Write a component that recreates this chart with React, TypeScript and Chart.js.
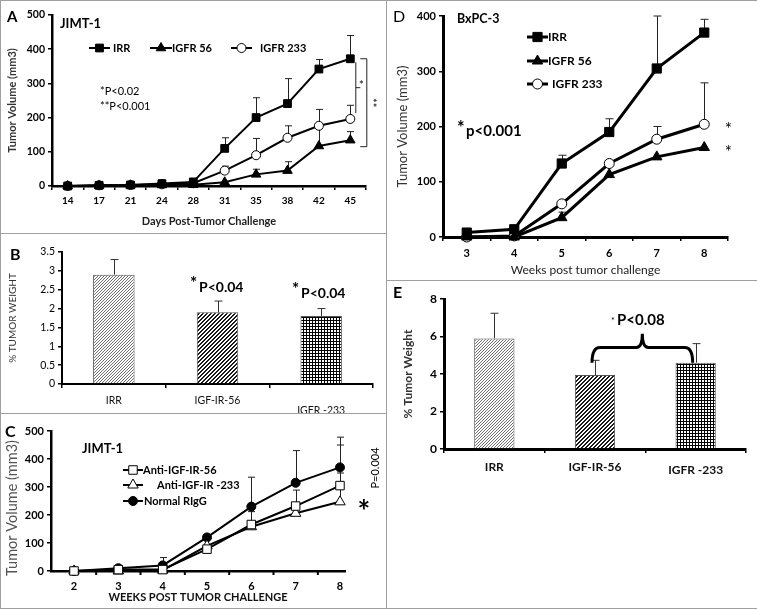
import { useEffect, useRef } from 'react';
import { Chart, registerables } from 'chart.js';
Chart.register(...registerables);

const FONT = "Lato, 'Noto Sans', sans-serif";
Chart.defaults.font.family = FONT;

// ---------- Panel A (JIMT-1, days) ----------
const daysA = ['14', '17', '21', '24', '28', '31', '35', '38', '42', '45'];
const irrA = [0, 2, 3, 7, 12, 110, 200, 241, 342, 372];
const irrAErr = [null, null, null, null, null, 141, 258, 314, 370, 440];
const igfr56A = [0, 1, 2, 3, 4, 11, 34, 45, 117, 134];
const igfr56AErr = [null, null, null, null, null, null, 49, 71, 175, 159];
const igfr233A = [0, 2, 3, 5, 8, 45, 90, 141, 176, 196];
const igfr233AErr = [null, null, null, null, null, 58, 139, 176, 224, 236];

// ---------- Panel B (% tumor weight) ----------
const groupsB = ['IRR', 'IGF-IR-56', 'IGFR -233'];
const weightB = [2.9, 1.9, 1.8];
const weightBErr = [3.3, 2.2, 2.0];

// ---------- Panel C (JIMT-1, weeks) ----------
const weeksC = [2, 3, 4, 5, 6, 7, 8];
const anti56C = [0, 5, 5, 78, 166, 232, 305];
const anti56CErr = [null, null, null, null, 212, 289, 450];
const anti233C = [0, 0, 3, 90, 158, 206, 247];
const anti233CErr = [null, 15, null, null, null, null, 350];
const riggC = [0, 10, 20, 120, 230, 315, 370];
const riggCErr = [null, null, 48, 130, 335, 430, 478];

// ---------- Panel D (BxPC-3) ----------
const weeksD = ['3', '4', '5', '6', '7', '8'];
const irrD = [8, 14, 133, 190, 305, 370];
const irrDErr = [null, 20, 148, 214, 400, 394];
const igfr56D = [0, 0, 35, 113, 145, 162];
const igfr56DErr = [null, null, 45, null, null, null];
const igfr233D = [0, 2, 60, 133, 177, 204];
const igfr233DErr = [null, null, null, null, 200, 279];

// ---------- Panel E (% tumor weight) ----------
const groupsE = ['IRR', 'IGF-IR-56', 'IGFR -233'];
const weightE = [5.9, 3.95, 4.6];
const weightEErr = [7.24, 4.73, 5.62];

function txt(ctx: CanvasRenderingContext2D, s: string, x: number, y: number, size: number, weight = 'normal',
  align: CanvasTextAlign = 'left', baseline: CanvasTextBaseline = 'alphabetic', color = '#000', rot = 0) {
  ctx.save();
  ctx.font = `${weight} ${size}px ${FONT}`;
  ctx.fillStyle = color;
  ctx.textAlign = align;
  ctx.textBaseline = baseline;
  ctx.translate(x, y);
  if (rot) ctx.rotate(rot);
  ctx.fillText(s, 0, 0);
  ctx.restore();
}

function marker(ctx: CanvasRenderingContext2D, style: string, x: number, y: number, r: number, fill: string) {
  ctx.save();
  ctx.beginPath();
  if (style === 'rect') {
    const s = r * Math.SQRT1_2;
    ctx.rect(x - s, y - s, 2 * s, 2 * s);
  } else if (style === 'triangle') {
    const a = (2 * Math.PI) / 3;
    ctx.moveTo(x, y - r);
    ctx.lineTo(x + r * Math.sin(a), y - r * Math.cos(a));
    ctx.lineTo(x + r * Math.sin(2 * a), y - r * Math.cos(2 * a));
    ctx.closePath();
  } else {
    ctx.arc(x, y, r, 0, Math.PI * 2);
  }
  ctx.fillStyle = fill;
  ctx.fill();
  ctx.strokeStyle = '#000';
  ctx.lineWidth = 1;
  ctx.stroke();
  ctx.restore();
}

function legendRow(ctx: CanvasRenderingContext2D, ds: any, x1: number, x2: number, y: number, tx: number, size: number, lw: number) {
  ctx.save();
  ctx.strokeStyle = '#000';
  ctx.lineWidth = lw;
  ctx.beginPath();
  ctx.moveTo(x1, y);
  ctx.lineTo(x2, y);
  ctx.stroke();
  ctx.restore();
  marker(ctx, ds.pointStyle, (x1 + x2) / 2, y, ds.pointRadius, ds.pointBackgroundColor);
  txt(ctx, ds.label, tx, y, size, 'bold', 'left', 'middle');
}

const errorBars = {
  id: 'errorBars',
  beforeDatasetsDraw(chart: any) {
    const ctx = chart.ctx;
    const ys = chart.scales.y;
    chart.data.datasets.forEach((ds: any, i: number) => {
      if (!ds.errTop) return;
      const meta = chart.getDatasetMeta(i);
      ctx.save();
      ctx.strokeStyle = ds.errColor || '#000';
      ctx.lineWidth = ds.errWidth || 1;
      meta.data.forEach((el: any, j: number) => {
        const v = ds.errTop[j];
        if (v == null) return;
        const x = Math.round(el.x) + 0.5;
        const y1 = ys.getPixelForValue(v);
        const c = ds.errCap || 3.5;
        ctx.beginPath();
        ctx.moveTo(x, el.y);
        ctx.lineTo(x, y1);
        ctx.moveTo(x - c, y1);
        ctx.lineTo(x + c, y1);
        ctx.stroke();
      });
      ctx.restore();
    });
  },
};

function pattern(kind: string): any {
  const c = document.createElement('canvas');
  const n = kind === 'dark' ? 4 : 3;
  c.width = n;
  c.height = n;
  const g = c.getContext('2d')!;
  g.fillStyle = '#fff';
  g.fillRect(0, 0, n, n);
  if (kind === 'light') {
    g.fillStyle = '#6e6e6e';
    for (let x = 0; x < n; x++) g.fillRect(x, n - 1 - x, 1, 1);
  } else if (kind === 'dark') {
    g.fillStyle = '#1a1a1a';
    for (let x = 0; x < n; x++) {
      g.fillRect(x, n - 1 - x, 1, 1);
      g.fillRect(x, (2 * n - 2 - x) % n, 1, 1);
    }
  } else {
    g.fillStyle = '#000';
    g.fillRect(0, 0, n, 1);
    g.fillRect(0, 0, 1, n);
  }
  return g.createPattern(c, 'repeat');
}

function yAxis(max: number, step: number, width: number, tickSize: number, tickWeight: string, title: string,
  titleSize: number, titleWeight: string, titleColor: string, titlePad: number, bw: number) {
  return {
    min: 0,
    max,
    ticks: {
      stepSize: step, font: { family: FONT, size: tickSize, weight: tickWeight }, color: '#000', padding: 3,
      callback: (v: any) => String(Math.round(Number(v) * 100) / 100),
    },
    grid: { drawOnChartArea: false, drawTicks: true, tickLength: 4, color: '#000', lineWidth: 1.5 },
    border: { display: true, color: '#000', width: bw },
    title: { display: title !== '', text: title, font: { family: FONT, size: titleSize, weight: titleWeight }, color: titleColor, padding: { top: titlePad, bottom: 0 } },
    afterFit: (s: any) => { s.width = width; },
  };
}

function baseOptions(padding: any, scales: any) {
  return {
    responsive: false,
    maintainAspectRatio: false,
    animation: false as const,
    devicePixelRatio: 1,
    events: [] as any[],
    layout: { padding },
    plugins: { legend: { display: false }, tooltip: { enabled: false } },
    scales,
  };
}

function lineDs(label: string, data: any[], err: any[], style: string, r: number, fill: string, bw: number, cap = 3.5) {
  return {
    label,
    data,
    errTop: err,
    errCap: cap,
    errColor: '#222',
    pointStyle: style,
    pointRadius: r,
    pointBackgroundColor: fill,
    pointBorderColor: '#000',
    pointBorderWidth: 1,
    borderColor: '#000',
    backgroundColor: '#000',
    borderWidth: bw,
    tension: 0,
    clip: false,
  };
}

function makeA(cv: HTMLCanvasElement) {
  const annot = {
    id: 'annA',
    afterDraw(chart: any) {
      const ctx = chart.ctx;
      const xs = chart.scales.x, ys = chart.scales.y;
      const ds = chart.data.datasets;
      txt(ctx, 'A', 7, 22, 15, 'bold');
      txt(ctx, 'JIMT-1', 60, 28, 13, 'bold');
      legendRow(ctx, ds[0], 89, 110, 48, 113, 11, 2);
      legendRow(ctx, ds[1], 150, 172, 48, 172, 11, 2);
      legendRow(ctx, ds[2], 231, 252, 48, 260, 11, 2);
      txt(ctx, '*P<0.02', 100, 95, 11);
      txt(ctx, '**P<0.001', 100, 110, 11);
      const lx = xs.getPixelForValue(daysA.length - 1);
      const last = daysA.length - 1;
      ctx.save();
      ctx.strokeStyle = '#222';
      ctx.lineWidth = 1;
      const yi1 = ys.getPixelForValue(irrA[last] - 10), yi2 = ys.getPixelForValue(igfr233A[last] + 17);
      const ym = (yi1 + yi2) / 2;
      ctx.beginPath();
      ctx.moveTo(lx + 5.5, yi1); ctx.lineTo(lx + 5.5, yi2);
      ctx.moveTo(lx + 5.5, ym); ctx.lineTo(lx + 10, ym);
      const yo1 = ys.getPixelForValue(irrA[last]), yo2 = ys.getPixelForValue(igfr56A[last] - 19);
      ctx.moveTo(lx + 10, yo1); ctx.lineTo(lx + 16.5, yo1); ctx.lineTo(lx + 16.5, yo2); ctx.lineTo(lx + 10, yo2);
      ctx.stroke();
      ctx.restore();
      txt(ctx, '*', lx + 11, ym - 2, 11, 'normal', 'center', 'middle');
      txt(ctx, '**', lx + 21, (yo1 + yo2) / 2, 11, 'normal', 'center', 'middle', '#000', Math.PI / 2);
    },
  };
  return new Chart(cv, {
    type: 'line',
    data: {
      labels: daysA,
      datasets: [
        lineDs('IRR', irrA, irrAErr, 'rect', 5.5, '#000', 2),
        lineDs('IGFR 56', igfr56A, igfr56AErr, 'triangle', 5.5, '#000', 2),
        lineDs('IGFR 233', igfr233A, igfr233AErr, 'circle', 4.5, '#fff', 2),
      ] as any,
    },
    options: baseOptions({ left: 0, top: 15, right: 20, bottom: 0 }, {
      x: {
        type: 'category', offset: true,
        grid: { offset: true, drawOnChartArea: false, tickLength: 4, color: '#000', lineWidth: 1.5 },
        border: { color: '#000', width: 2.5 },
        ticks: { font: { size: 10, weight: 'bold' }, color: '#000', padding: 5, maxRotation: 0, autoSkip: false },
        title: { display: true, text: 'Days Post-Tumor Challenge', font: { size: 11, weight: 'bold' }, color: '#222', padding: { top: 0, bottom: 5 } },
        afterFit: (s: any) => { s.height = 47; },
      },
      y: yAxis(500, 100, 52, 10.5, 'bold', 'Tumor Volume (mm3)', 11, 'bold', '#333', 6, 2.5),
    }) as any,
    plugins: [errorBars, annot],
  });
}

function makeBars(cv: HTMLCanvasElement, groups: string[], vals: number[], errs: number[], cfg: any) {
  const pats = [pattern('light'), pattern('dark'), pattern('grid')];
  const annot = {
    id: 'annBar',
    afterDraw(chart: any) {
      const ctx = chart.ctx;
      const xs = chart.scales.x;
      groups.forEach((g, i) => {
        txt(ctx, g, xs.getPixelForValue(i), i === 2 ? cfg.labelY2 : cfg.labelY, cfg.labelSize, cfg.labelWeight, 'center', 'middle', '#111');
      });
      cfg.extra(chart, ctx);
    },
  };
  return new Chart(cv, {
    type: 'bar',
    data: {
      labels: groups,
      datasets: [{
        data: vals, errTop: errs, errCap: 4, errColor: '#333', errWidth: 1,
        backgroundColor: pats, borderColor: '#555', borderWidth: 1,
        categoryPercentage: 0.8, barPercentage: 0.5,
      }] as any,
    },
    options: baseOptions(cfg.padding, {
      x: {
        type: 'category',
        grid: { offset: true, drawOnChartArea: false, tickLength: 4, color: '#000', lineWidth: 1.5 },
        border: { color: '#000', width: cfg.bw },
        ticks: { display: false },
        afterFit: (s: any) => { s.height = cfg.xh; },
      },
      y: cfg.y,
    }) as any,
    plugins: [errorBars, annot],
  });
}

function makeB(cv: HTMLCanvasElement) {
  return makeBars(cv, groupsB, weightB, weightBErr, {
    padding: { left: 0, top: 19, right: 13, bottom: 0 },
    xh: 29, bw: 2, labelY: 168, labelY2: 178, labelSize: 10.5, labelWeight: 'normal',
    y: yAxis(3.5, 0.5, 62, 10.5, 'normal', '% TUMOR WEIGHT', 10, 'normal', '#333', 7, 2),
    extra: (chart: any, ctx: CanvasRenderingContext2D) => {
      txt(ctx, 'B', 10, 27, 16, 'bold');
      txt(ctx, '*', 190, 56, 17, 'bold');
      txt(ctx, 'P<0.04', 199, 59, 14, 'bold');
      txt(ctx, '*', 292, 62, 17, 'bold');
      txt(ctx, 'P<0.04', 301, 65, 14, 'bold');
    },
  });
}

function makeE(cv: HTMLCanvasElement) {
  return makeBars(cv, groupsE, weightE, weightEErr, {
    padding: { left: 0, top: 19, right: 11, bottom: 0 },
    xh: 159, bw: 3, labelY: 187, labelY2: 190, labelSize: 12, labelWeight: 'bold',
    y: yAxis(8, 2, 58, 12, 'bold', '% Tumor Weight', 12, 'bold', '#333', 15, 3),
    extra: (chart: any, ctx: CanvasRenderingContext2D) => {
      const xs = chart.scales.x, ys = chart.scales.y;
      txt(ctx, 'E', 7, 18, 16, 'bold');
      const xl = xs.getPixelForValue(1) - 3, xr = xs.getPixelForValue(2) - 3;
      const yEnd = ys.getPixelForValue(weightE[2]), yMid = ys.getPixelForValue(5.42), yTip = ys.getPixelForValue(6.15);
      const xm = (xl + xr) / 2;
      ctx.save();
      ctx.strokeStyle = '#000';
      ctx.lineWidth = 3;
      ctx.beginPath();
      ctx.moveTo(xl, yEnd);
      ctx.quadraticCurveTo(xl, yMid, xl + 8, yMid);
      ctx.lineTo(xm - 6, yMid);
      ctx.quadraticCurveTo(xm, yMid, xm, yTip);
      ctx.quadraticCurveTo(xm, yMid, xm + 6, yMid);
      ctx.lineTo(xr - 8, yMid);
      ctx.quadraticCurveTo(xr, yMid, xr, yEnd);
      ctx.stroke();
      ctx.restore();
      txt(ctx, '*', 225, 44, 9, 'normal');
      txt(ctx, 'P<0.08', 231, 45, 15, 'bold');
    },
  });
}

function makeC(cv: HTMLCanvasElement) {
  const annot = {
    id: 'annC',
    afterDraw(chart: any) {
      const ctx = chart.ctx;
      const xs = chart.scales.x, ys = chart.scales.y;
      const ds = chart.data.datasets;
      ctx.save();
      ctx.strokeStyle = '#000';
      ctx.lineWidth = 2;
      ctx.beginPath();
      for (let i = 0; i < weeksC.length - 1; i++) {
        const px = xs.getPixelForValue(weeksC[i] + 0.5);
        ctx.moveTo(px, ys.bottom);
        ctx.lineTo(px, ys.bottom + 4);
      }
      ctx.stroke();
      ctx.restore();
      txt(ctx, 'Tumor Volume (mm3)', 12, 95, 14.5, 'normal', 'center', 'middle', '#555', -Math.PI / 2);
      txt(ctx, 'C', 5, 24, 16, 'bold');
      txt(ctx, 'JIMT-1', 82, 40, 13, 'bold');
      legendRow(ctx, ds[0], 123, 143, 57, 143, 11, 2);
      legendRow(ctx, ds[1], 123, 143, 72, 157, 11, 2);
      legendRow(ctx, ds[2], 123, 143, 88, 144, 11, 2);
      txt(ctx, 'P=0.004', 375, 55, 11, 'normal', 'center', 'middle', '#000', -Math.PI / 2);
      const last = weeksC.length - 1;
      txt(ctx, '*', xs.getPixelForValue(weeksC[last]) + 24, ys.getPixelForValue(anti233C[last]) + 10, 30, 'bold', 'center', 'middle');
    },
  };
  const pts = (arr: number[]) => arr.map((v, i) => ({ x: weeksC[i], y: v }));
  return new Chart(cv, {
    type: 'line',
    data: {
      datasets: [
        lineDs('Anti-IGF-IR-56', pts(anti56C), anti56CErr, 'rect', 6, '#fff', 2),
        lineDs('Anti-IGF-IR -233', pts(anti233C), anti233CErr, 'triangle', 6, '#fff', 2),
        lineDs('Normal RIgG', pts(riggC), riggCErr, 'circle', 4.5, '#000', 2),
      ] as any,
    },
    options: baseOptions({ left: 0, top: 18, right: 41, bottom: 0 }, {
      x: {
        type: 'linear', min: 1.481, max: 8.113,
        afterBuildTicks: (s: any) => { s.ticks = weeksC.map((v) => ({ value: v })); },
        grid: { drawOnChartArea: false, drawTicks: false },
        border: { color: '#000', width: 2.5 },
        ticks: { font: { size: 11, weight: 'bold' }, color: '#000', padding: 9, maxRotation: 0, autoSkip: false },
        title: { display: true, text: 'WEEKS POST TUMOR CHALLENGE', font: { size: 11, weight: 'bold' }, color: '#111', padding: { top: 0, bottom: 5 } },
        afterFit: (s: any) => { s.height = 38; },
      },
      y: yAxis(500, 100, 51, 11, 'bold', '', 15, 'normal', '#555', 3, 2.5),
    }) as any,
    plugins: [errorBars, annot],
  });
}

function makeD(cv: HTMLCanvasElement) {
  const annot = {
    id: 'annD',
    afterDraw(chart: any) {
      const ctx = chart.ctx;
      const xs = chart.scales.x, ys = chart.scales.y;
      const ds = chart.data.datasets;
      txt(ctx, 'D', 7, 22, 16, 'normal');
      txt(ctx, 'BxPC-3', 71, 23, 12.5, 'bold');
      legendRow(ctx, ds[0], 141, 162, 37, 162, 12, 3);
      legendRow(ctx, ds[1], 141, 162, 61, 162, 12, 3);
      legendRow(ctx, ds[2], 141, 162, 84, 166, 12, 3);
      txt(ctx, '*', 71, 134, 18, 'bold');
      txt(ctx, 'p<0.001', 80, 136, 15, 'bold');
      const last = weeksD.length - 1;
      const rx = xs.getPixelForValue(last) + 24;
      txt(ctx, '*', rx, ys.getPixelForValue(igfr233D[last]) + 5, 17, 'normal', 'center', 'middle');
      txt(ctx, '*', rx, ys.getPixelForValue(igfr56D[last]) + 5, 17, 'normal', 'center', 'middle');
    },
  };
  return new Chart(cv, {
    type: 'line',
    data: {
      labels: weeksD,
      datasets: [
        lineDs('IRR', irrD, irrDErr, 'rect', 6.5, '#000', 3, 4),
        lineDs('IGFR 56', igfr56D, igfr56DErr, 'triangle', 6, '#000', 3, 4),
        lineDs('IGFR 233', igfr233D, igfr233DErr, 'circle', 5, '#fff', 3, 4),
      ] as any,
    },
    options: baseOptions({ left: 0, top: 16, right: 29, bottom: 0 }, {
      x: {
        type: 'category', offset: true,
        grid: { offset: true, drawOnChartArea: false, tickLength: 4, color: '#000', lineWidth: 1.5 },
        border: { color: '#000', width: 3 },
        ticks: { font: { size: 11, weight: 'bold' }, color: '#000', padding: 6, maxRotation: 0, autoSkip: false },
        title: { display: true, text: 'Weeks post tumor challenge', font: { size: 12, weight: 'normal' }, color: '#222', padding: { top: 0, bottom: 3 } },
        afterFit: (s: any) => { s.height = 43; },
      },
      y: yAxis(400, 100, 57, 11, 'bold', 'Tumor Volume (mm3)', 13, 'normal', '#333', 9, 3),
    }) as any,
    plugins: [errorBars, annot],
  });
}

const LINE = '#a0a0a0';

export default function App() {
  const rA = useRef<HTMLCanvasElement>(null);
  const rB = useRef<HTMLCanvasElement>(null);
  const rC = useRef<HTMLCanvasElement>(null);
  const rD = useRef<HTMLCanvasElement>(null);
  const rE = useRef<HTMLCanvasElement>(null);
  useEffect(() => {
    const charts = [makeA(rA.current!), makeB(rB.current!), makeC(rC.current!), makeD(rD.current!), makeE(rE.current!)];
    return () => charts.forEach((c) => c.destroy());
  }, []);
  const abs = (l: number, t: number, w: number, h: number, extra: any = {}) =>
    ({ position: 'absolute' as const, left: l, top: t, width: w, height: h, ...extra });
  return (
    <div style={abs(0, 0, 757, 609, { background: '#fff', overflow: 'hidden' })}>
      <canvas ref={rA} width={386} height={233} style={abs(0, 0, 386, 233)} />
      <canvas ref={rB} width={386} height={180} style={abs(0, 233, 386, 180)} />
      <canvas ref={rC} width={386} height={196} style={abs(0, 413, 386, 196)} />
      <canvas ref={rD} width={371} height={280} style={abs(386, 0, 371, 280)} />
      <canvas ref={rE} width={371} height={328} style={abs(386, 280, 371, 328)} />
      <div style={abs(0, 0, 757, 1, { background: LINE })} />
      <div style={abs(0, 0, 1, 609, { background: LINE })} />
      <div style={abs(386, 0, 1, 609, { background: LINE })} />
      <div style={abs(0, 233, 386, 1, { background: LINE })} />
      <div style={abs(0, 413, 386, 1, { background: LINE })} />
      <div style={abs(386, 280, 371, 1, { background: LINE })} />
      <div style={abs(0, 608, 757, 1, { background: LINE })} />
    </div>
  );
}
